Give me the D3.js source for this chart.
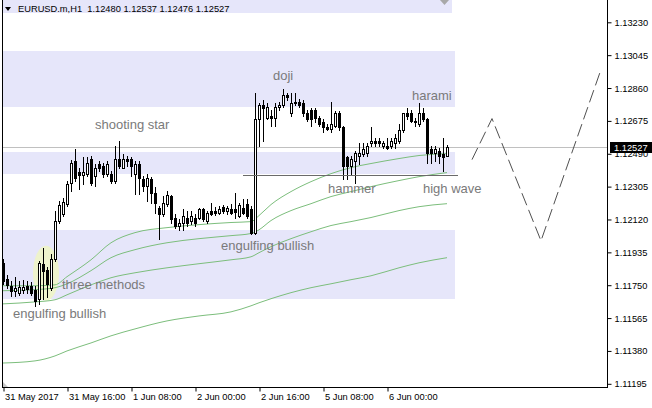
<!DOCTYPE html>
<html><head><meta charset="utf-8">
<script src="https://cdn.jsdelivr.net/npm/d3@7"></script>
<style>body{margin:0;background:#fff;} svg{display:block;}</style>
</head><body>
<svg id="c" width="652" height="408"></svg>
<script>
// ---------- DATA ----------
const symbolHeader = "EURUSD.m,H1  1.12480 1.12537 1.12476 1.12527";
const lastPrice = 1.12527;
const priceTicks = [1.13230,1.13045,1.12860,1.12675,1.12490,1.12305,1.12120,1.11935,1.11750,1.11565,1.11380,1.11195];
const timeLabels = ["31 May 2017","31 May 16:00","1 Jun 08:00","2 Jun 00:00","2 Jun 16:00","5 Jun 08:00","6 Jun 00:00"];
const timeLabelBars = [0,16,32,48,64,80,96];

const opens = [1.11876,1.11786,1.11747,1.11719,1.11708,1.11725,1.11747,1.11747,1.11725,1.11674,
1.11871,1.11837,1.11736,1.11899,1.12114,1.12153,1.12209,1.12328,1.12452,1.12390,
1.12373,1.12378,1.12463,1.12367,1.12435,1.12423,1.12378,1.12378,1.12339,1.12463,
1.12412,1.12463,1.12463,1.12378,1.12435,1.12350,1.12311,1.12350,1.12271,1.12187,
1.12153,1.12209,1.12254,1.12131,1.12086,1.12103,1.12131,1.12114,1.12131,1.12131,
1.12181,1.12114,1.12170,1.12170,1.12159,1.12192,1.12170,1.12181,1.12181,1.12142,
1.12187,1.12209,1.12181,1.12046,1.12688,1.12762,1.12694,1.12700,1.12694,1.12751,
1.12762,1.12818,1.12717,1.12784,1.12784,1.12773,1.12722,1.12734,1.12734,1.12694,
1.12666,1.12643,1.12632,1.12649,1.12717,1.12643,1.12469,1.12423,1.12452,1.12480,
1.12491,1.12497,1.12548,1.12564,1.12559,1.12536,1.12536,1.12536,1.12553,1.12564,
1.12621,1.12722,1.12717,1.12677,1.12660,1.12722,1.12688,1.12519,1.12497,1.12508,
1.12491,1.12480];
const highs = [1.11899,1.11809,1.11775,1.11798,1.11775,1.11781,1.11775,1.11770,1.11747,1.11888,
1.11961,1.11854,1.11928,1.12170,1.12226,1.12243,1.12339,1.12457,1.12519,1.12407,
1.12469,1.12469,1.12480,1.12435,1.12452,1.12440,1.12452,1.12395,1.12536,1.12564,
1.12491,1.12480,1.12474,1.12452,1.12452,1.12367,1.12378,1.12361,1.12305,1.12198,
1.12254,1.12282,1.12260,1.12153,1.12125,1.12181,1.12170,1.12170,1.12153,1.12187,
1.12187,1.12170,1.12215,1.12192,1.12198,1.12204,1.12198,1.12209,1.12271,1.12215,
1.12238,1.12238,1.12198,1.12830,1.12773,1.12790,1.12773,1.12734,1.12773,1.12779,
1.12852,1.12830,1.12830,1.12830,1.12801,1.12790,1.12734,1.12745,1.12745,1.12705,
1.12688,1.12660,1.12779,1.12728,1.12728,1.12649,1.12480,1.12480,1.12508,1.12553,
1.12553,1.12553,1.12638,1.12576,1.12581,1.12564,1.12581,1.12581,1.12604,1.12660,
1.12722,1.12745,1.12734,1.12694,1.12773,1.12745,1.12694,1.12536,1.12536,1.12525,
1.12581,1.12537];
const lows = [1.11758,1.11736,1.11691,1.11691,1.11696,1.11708,1.11708,1.11696,1.11634,1.11645,
1.11674,1.11685,1.11725,1.11888,1.12103,1.12142,1.12198,1.12282,1.12339,1.12294,
1.12322,1.12367,1.12316,1.12311,1.12395,1.12361,1.12367,1.12328,1.12328,1.12412,
1.12407,1.12423,1.12367,1.12266,1.12266,1.12282,1.12226,1.12215,1.12159,1.12012,
1.12142,1.12198,1.12103,1.12074,1.12058,1.12058,1.12086,1.12097,1.12086,1.12125,
1.12114,1.12103,1.12147,1.12147,1.12153,1.12159,1.12153,1.12153,1.12131,1.12136,
1.12153,1.12131,1.12041,1.12041,1.12536,1.12564,1.12688,1.12649,1.12649,1.12734,
1.12751,1.12790,1.12705,1.12762,1.12751,1.12705,1.12677,1.12649,1.12666,1.12649,
1.12610,1.12621,1.12610,1.12638,1.12621,1.12350,1.12350,1.12378,1.12328,1.12435,
1.12480,1.12480,1.12536,1.12536,1.12536,1.12525,1.12519,1.12525,1.12525,1.12553,
1.12610,1.12688,1.12666,1.12649,1.12649,1.12677,1.12440,1.12440,1.12452,1.12440,
1.12395,1.12476];
const closes = [1.11775,1.11753,1.11719,1.11736,1.11742,1.11742,1.11730,1.11708,1.11662,1.11876,
1.11832,1.11758,1.11899,1.12114,1.12204,1.12221,1.12322,1.12440,1.12356,1.12373,
1.12390,1.12440,1.12328,1.12412,1.12412,1.12378,1.12435,1.12339,1.12463,1.12423,
1.12463,1.12452,1.12423,1.12435,1.12356,1.12311,1.12356,1.12271,1.12215,1.12153,
1.12215,1.12260,1.12125,1.12086,1.12103,1.12142,1.12103,1.12142,1.12103,1.12181,
1.12125,1.12159,1.12153,1.12159,1.12181,1.12170,1.12187,1.12159,1.12164,1.12204,
1.12159,1.12142,1.12046,1.12688,1.12762,1.12745,1.12751,1.12694,1.12751,1.12762,
1.12818,1.12807,1.12773,1.12773,1.12762,1.12717,1.12688,1.12683,1.12694,1.12660,
1.12638,1.12632,1.12655,1.12717,1.12643,1.12423,1.12423,1.12463,1.12497,1.12497,
1.12519,1.12536,1.12564,1.12548,1.12548,1.12553,1.12525,1.12564,1.12576,1.12621,
1.12717,1.12705,1.12677,1.12666,1.12722,1.12688,1.12497,1.12497,1.12519,1.12480,
1.12474,1.12527];

// moving averages sampled at bar indices
const maBars = [0,8,13,16,22,27,33,41,49,57,62,64,67,72,77,82,87,92,99,104,111];
const ma1 = [1.11747,1.11747,1.11752,1.11798,1.11893,1.11989,1.12046,1.12074,1.12091,1.12103,1.12108,1.12142,1.12204,1.12277,1.12333,1.12378,1.12412,1.12435,1.12463,1.12480,1.12491];
const ma2 = [1.11719,1.11725,1.11736,1.11758,1.11832,1.11905,1.11950,1.11989,1.12012,1.12029,1.12041,1.12062,1.12114,1.12170,1.12209,1.12249,1.12277,1.12305,1.12339,1.12361,1.12384];
const ma3 = [1.11645,1.11656,1.11668,1.11696,1.11752,1.11792,1.11820,1.11848,1.11871,1.11893,1.11910,1.11933,1.11967,1.12012,1.12051,1.12086,1.12108,1.12131,1.12170,1.12192,1.12209];
const ma4 = [1.11312,1.11324,1.11352,1.11380,1.11425,1.11465,1.11504,1.11549,1.11577,1.11600,1.11634,1.11651,1.11674,1.11708,1.11736,1.11758,1.11781,1.11803,1.11848,1.11876,1.11905];

// zones (rectangles)
const zoneStartBar = [-5,-5,-5,-5];
const zoneEndBar = [112.25,113,113,113];
const zoneHigh = [1.13400,1.13066,1.12502,1.12058];
const zoneLow  = [1.13281,1.12751,1.12378,1.11673];

// highlight ellipse (three methods)
const ellipseBars = [7.5,14];
const ellipsePrices = [1.11972,1.11662];

// support line
const supportBars = [60,113.75];
const supportPrice = 1.12373;

// projected zigzag
const zigzagBars = [117.25,122.25,134.5,149.25];
const zigzagPrices = [1.12457,1.12688,1.12000,1.12948];

// pattern labels
const noteTexts = ["shooting star","doji","harami","hammer","high wave","engulfing bullish","three methods","engulfing bullish"];
const noteBars = [23,67.5,102.25,81.25,105,54.5,14.75,2.5];
const notePrices = [1.12632,1.12903,1.12790,1.12271,1.12271,1.11950,1.11730,1.11566];

// ---------- DRAW ----------
const svg = d3.select("#c");
const x = d3.scaleLinear().domain([0,111]).range([3,447]);
const y = d3.scaleLinear().domain([1.11195,1.13230]).range([383.8,22.3]);
const plotL=2, plotR=607, plotB=387;
const FONT = "'Liberation Sans', Arial, sans-serif";

svg.append("defs").append("clipPath").attr("id","clip")
  .append("rect").attr("x",plotL).attr("y",0).attr("width",plotR-plotL).attr("height",plotB);
const g = svg.append("g").attr("clip-path","url(#clip)");

// zones
zoneHigh.forEach((h,i)=>{
  const x0=Math.round(x(zoneStartBar[i])), x1=Math.round(x(zoneEndBar[i]));
  const y0=Math.round(y(h)), y1=Math.round(y(zoneLow[i]));
  g.append("rect").attr("x",x0).attr("y",y0).attr("width",x1-x0).attr("height",y1-y0)
    .attr("fill","#E6E6FA");
});

// ellipse
{
  const ex0=x(ellipseBars[0]), ex1=x(ellipseBars[1]);
  const ey0=y(ellipsePrices[0]), ey1=y(ellipsePrices[1]);
  g.append("ellipse").attr("cx",(ex0+ex1)/2).attr("cy",(ey0+ey1)/2)
    .attr("rx",(ex1-ex0)/2).attr("ry",(ey1-ey0)/2).attr("fill","#EEF3CC");
}

// current price line
g.append("line").attr("x1",plotL).attr("x2",plotR)
  .attr("y1",Math.round(y(lastPrice))+0.5).attr("y2",Math.round(y(lastPrice))+0.5)
  .attr("stroke","#C0C0C0").attr("stroke-width",1);

// moving averages
const maLine = d3.line().x((d,i)=>x(maBars[i])).y(d=>y(d)).curve(d3.curveMonotoneX);
[ma1,ma2,ma3,ma4].forEach(ma=>{
  g.append("path").attr("d",maLine(ma)).attr("fill","none")
    .attr("stroke","#7CBE7C").attr("stroke-width",1);
});

// candles
const cg = g.append("g");
opens.forEach((o,i)=>{
  const c = Math.round(x(i));
  const yh=Math.round(y(highs[i])), yl=Math.round(y(lows[i]));
  const yo=Math.round(y(o)), yc=Math.round(y(closes[i]));
  cg.append("rect").attr("x",c).attr("y",yh).attr("width",1).attr("height",Math.max(1,yl-yh+1)).attr("fill","#000");
  const top=Math.min(yo,yc), bot=Math.max(yo,yc);
  if (closes[i] >= o) {
    if (bot-top < 1) {
      cg.append("rect").attr("x",c-1).attr("y",top).attr("width",3).attr("height",1).attr("fill","#000");
    } else {
      cg.append("rect").attr("x",c-0.5).attr("y",top+0.5).attr("width",2).attr("height",bot-top)
        .attr("fill","#fff").attr("stroke","#000").attr("stroke-width",1);
    }
  } else {
    cg.append("rect").attr("x",c-1).attr("y",top).attr("width",3).attr("height",Math.max(1,bot-top+1)).attr("fill","#000");
  }
});

// support line
g.append("line").attr("x1",Math.round(x(supportBars[0]))).attr("x2",Math.round(x(supportBars[1])))
  .attr("y1",Math.round(y(supportPrice))+0.5).attr("y2",Math.round(y(supportPrice))+0.5)
  .attr("stroke","#6A6A6A").attr("stroke-width",1);

// zigzag projection
const zz = d3.line().x((d,i)=>x(zigzagBars[i])).y(d=>y(d));
g.append("path").attr("d",zz(zigzagPrices)).attr("fill","none")
  .attr("stroke","#505050").attr("stroke-width",1).attr("stroke-dasharray","13,5");

// notes
noteTexts.forEach((t,i)=>{
  g.append("text").attr("x",x(noteBars[i])).attr("y",y(notePrices[i]))
    .attr("font-family",FONT).attr("font-size","13px").attr("fill","#7A7A7A").text(t);
});

// header
svg.append("path").attr("d","M5,7 L11,7 L8,11 Z").attr("fill","#000");
svg.append("text").attr("x",18).attr("y",12).attr("font-family",FONT).attr("font-size","9.3px")
  .attr("fill","#000").style("white-space","pre").text(symbolHeader);
// chart shift marker
svg.append("path").attr("d","M440,0 L449,0 L444.5,5 Z").attr("fill","#A8A8A8");
// bottom-left marker
svg.append("path").attr("d","M3,382 L3,387 L8,387 Z").attr("fill","#C8C8C8");

// frame
svg.append("line").attr("x1",plotL+0.5).attr("x2",plotL+0.5).attr("y1",0).attr("y2",plotB+0.5).attr("stroke","#000");
svg.append("line").attr("x1",plotR+0.5).attr("x2",plotR+0.5).attr("y1",0).attr("y2",plotB+0.5).attr("stroke","#000");
svg.append("line").attr("x1",plotL).attr("x2",plotR+1).attr("y1",plotB+0.5).attr("y2",plotB+0.5).attr("stroke","#000");

// right axis
const yAxis = d3.axisRight(y).tickValues(priceTicks).tickFormat(d3.format(".5f")).tickSize(4).tickPadding(3);
const ya = svg.append("g").attr("transform",`translate(${plotR+0.5},0)`).call(yAxis);
ya.select(".domain").remove();
ya.selectAll("line").attr("stroke","#000");
ya.selectAll("text").attr("font-family",FONT).attr("font-size","9.3px").attr("fill","#000");

// bottom axis
const xAxis = d3.axisBottom(x).tickValues(timeLabelBars).tickFormat((d,i)=>timeLabels[i]).tickSize(4).tickPadding(2);
const xa = svg.append("g").attr("transform",`translate(0.5,${plotB+0.5})`).call(xAxis);
xa.select(".domain").remove();
xa.selectAll("line").attr("stroke","#000");
xa.selectAll("text").attr("font-family",FONT).attr("font-size","9.3px").attr("fill","#000")
  .attr("text-anchor","start").attr("dx","1");

// last price label
{
  const yp = y(lastPrice);
  svg.append("rect").attr("x",610).attr("y",Math.round(yp)-5).attr("width",42).attr("height",11).attr("fill","#000");
  svg.append("text").attr("x",614).attr("y",Math.round(yp)+4).attr("font-family",FONT).attr("font-size","9.3px")
    .attr("fill","#fff").text(d3.format(".5f")(lastPrice));
}
</script>
</body></html>
